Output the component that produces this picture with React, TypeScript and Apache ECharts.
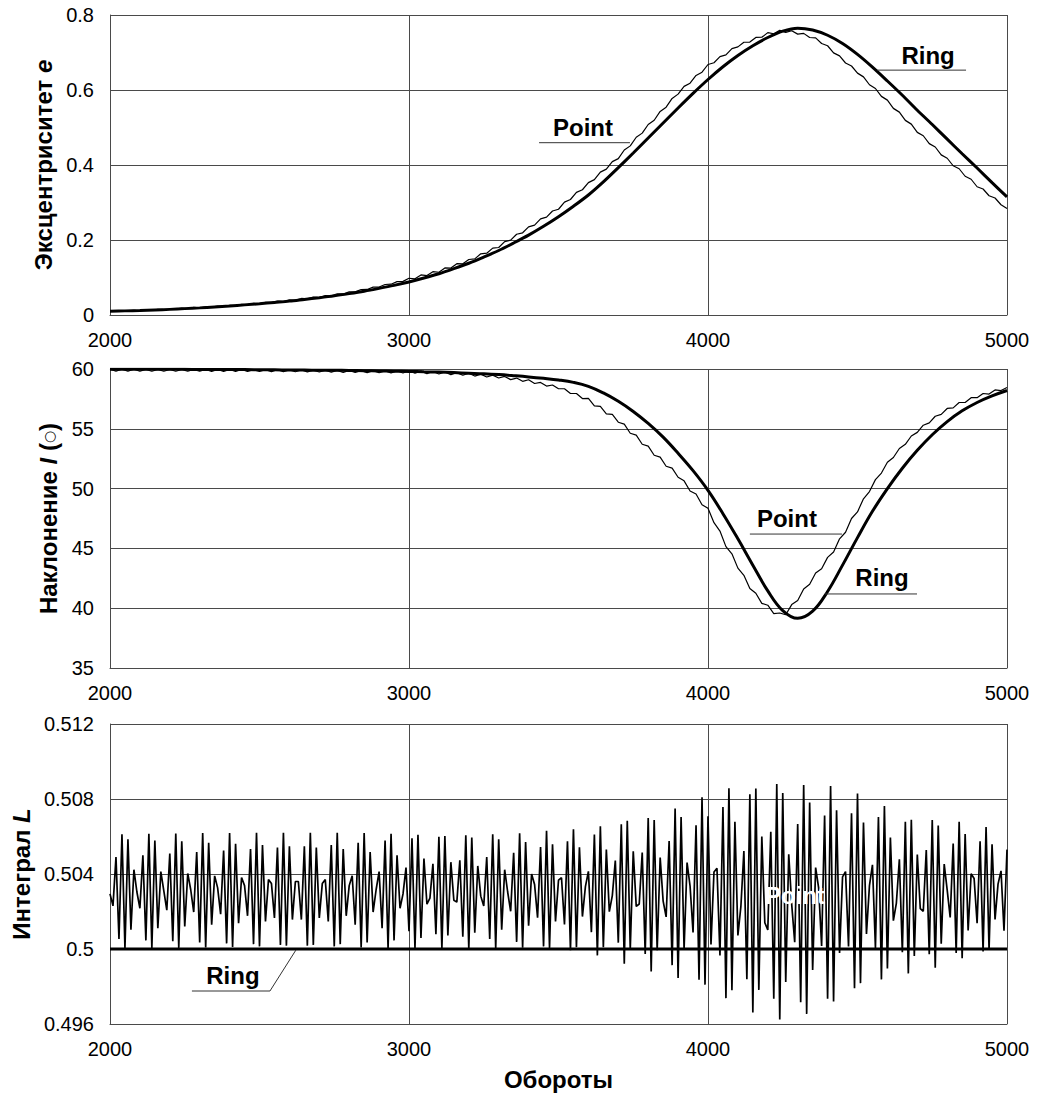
import React, { useEffect, useRef } from "react";
import * as echarts from "echarts";

const FONT = "'Liberation Sans', Arial, sans-serif";

// Revolution axis
const xTicks = [2000, 3000, 4000, 5000];
const REV_START = 2000;

// Eccentricity e — ring model, every 50 revolutions
const eRingStep = 50;
const eRing = [
  0.010, 0.011, 0.012, 0.0135, 0.015, 0.017, 0.019, 0.0215, 0.024, 0.027,
  0.030, 0.0335, 0.037, 0.0415, 0.046, 0.051, 0.057, 0.0635, 0.071, 0.079,
  0.088, 0.0985, 0.110, 0.1235, 0.138, 0.1545, 0.172, 0.192, 0.213, 0.2365,
  0.262, 0.290, 0.320, 0.355, 0.393, 0.432, 0.472, 0.512, 0.552, 0.591,
  0.628, 0.662, 0.692, 0.718, 0.740, 0.757, 0.765, 0.760, 0.746, 0.724,
  0.695, 0.661, 0.624, 0.586, 0.546, 0.508, 0.469, 0.430, 0.392, 0.353,
  0.315,
];

// Eccentricity e — point model, every 20 revolutions
const ePointStep = 20;
const ePoint = [
  0.011, 0.0094, 0.0118, 0.0102, 0.0126, 0.011, 0.0138, 0.0126, 0.0154, 0.0142,
  0.017, 0.0158, 0.0186, 0.0174, 0.0202, 0.019, 0.022, 0.021, 0.024, 0.023,
  0.026, 0.0252, 0.0284, 0.0276, 0.0308, 0.030, 0.0336, 0.0332, 0.0368, 0.0364,
  0.0405, 0.0393, 0.0441, 0.0429, 0.0477, 0.0465, 0.0519, 0.0513, 0.0567, 0.0561,
  0.0615, 0.0617, 0.0679, 0.0681, 0.0743, 0.0745, 0.0813, 0.0821, 0.0889, 0.0897,
  0.098, 0.0964, 0.1068, 0.1052, 0.1156, 0.114, 0.1256, 0.1252, 0.1368, 0.1364,
  0.148, 0.1496, 0.1632, 0.1648, 0.1784, 0.180, 0.1958, 0.1996, 0.2154, 0.2192,
  0.235, 0.2396, 0.2562, 0.2608, 0.2774, 0.282, 0.301, 0.308, 0.327, 0.334,
  0.353, 0.361, 0.381, 0.389, 0.409, 0.417, 0.440, 0.451, 0.474, 0.485,
  0.508, 0.5194, 0.5428, 0.5542, 0.5776, 0.589, 0.6096, 0.6182, 0.6388, 0.6474,
  0.668, 0.6726, 0.6892, 0.6938, 0.7104, 0.715, 0.7274, 0.7278, 0.7402, 0.7406,
  0.753, 0.750, 0.759, 0.7535, 0.758, 0.749, 0.751, 0.740, 0.739, 0.724,
  0.718, 0.699, 0.691, 0.672, 0.664, 0.645, 0.635, 0.614, 0.604, 0.583,
  0.573, 0.551, 0.541, 0.519, 0.509, 0.487, 0.478, 0.457, 0.448, 0.427,
  0.418, 0.398, 0.390, 0.370, 0.362, 0.342, 0.336, 0.318, 0.312, 0.294,
  0.284,
];

// Inclination I (deg) — ring model, every 50 revolutions
const iRingStep = 50;
const iRing = [
  59.98, 59.98, 59.98, 59.97, 59.97, 59.97, 59.96, 59.96, 59.95, 59.95,
  59.94, 59.93, 59.92, 59.91, 59.9, 59.89, 59.88, 59.86, 59.84, 59.82,
  59.8, 59.77, 59.74, 59.7, 59.65, 59.6, 59.53, 59.44, 59.34, 59.22,
  59.08, 58.88, 58.55, 58.0, 57.3, 56.45, 55.45, 54.3, 52.95, 51.5,
  49.85, 47.9, 45.8, 43.6, 41.45, 39.8, 39.15, 39.75, 41.4, 43.6,
  45.9, 48.1, 50.0, 51.7, 53.2, 54.5, 55.6, 56.5, 57.2, 57.75,
  58.2,
];

// Inclination I (deg) — point model, every 20 revolutions
const iPointStep = 20;
const iPoint = [
  59.98, 59.82, 59.98, 59.82, 59.98, 59.82, 59.97, 59.81, 59.97, 59.81,
  59.97, 59.81, 59.97, 59.81, 59.97, 59.81, 59.96, 59.8, 59.96, 59.8,
  59.96, 59.8, 59.96, 59.79, 59.95, 59.79, 59.95, 59.78, 59.94, 59.78,
  59.93, 59.77, 59.92, 59.76, 59.91, 59.75, 59.9, 59.74, 59.89, 59.72,
  59.88, 59.71, 59.86, 59.7, 59.85, 59.69, 59.84, 59.68, 59.83, 59.67,
  59.85, 59.64, 59.82, 59.6, 59.79, 59.58, 59.76, 59.53, 59.7, 59.48,
  59.65, 59.41, 59.57, 59.33, 59.49, 59.25, 59.38, 59.11, 59.24, 58.97,
  59.1, 58.79, 58.88, 58.57, 58.66, 58.35, 58.35, 57.95, 57.95, 57.53,
  57.55, 56.92, 56.88, 56.25, 56.2, 55.55, 55.39, 54.63, 54.47, 53.71,
  53.55, 52.79, 52.63, 51.87, 51.71, 50.95, 50.65, 49.8, 49.55, 48.65,
  48.35, 47.15, 46.45, 45.15, 44.55, 43.35, 42.75, 41.65, 41.25, 40.4,
  40.25, 39.55, 39.6, 39.45, 40.3, 40.65, 41.6, 42.0, 42.95, 43.3,
  44.25, 44.7, 45.8, 46.35, 47.5, 48.05, 49.15, 49.75, 50.75, 51.3,
  52.2, 52.6, 53.35, 53.7, 54.4, 54.7, 55.3, 55.5, 56.05, 56.2,
  56.7, 56.75, 57.2, 57.2, 57.6, 57.6, 57.95, 57.9, 58.25, 58.2,
  58.45,
];

// Integral L — ring model, every 250 revolutions
const lRingStep = 250;
const lRing = [0.5, 0.5, 0.5, 0.5, 0.5, 0.5, 0.5, 0.5, 0.5, 0.5, 0.5, 0.5, 0.5];

// Integral L — point model, every 10 revolutions
const lPointStep = 10;
const lPoint = [
  0.50294, 0.5023, 0.50491, 0.50053, 0.50612, 0.50003, 0.50585, 0.50103, 0.50423, 0.50304,
  0.50217, 0.5050, 0.50046, 0.50614, 0.50004, 0.50579, 0.50111, 0.50413, 0.5031, 0.50207,
  0.50509, 0.50041, 0.50616, 0.50006, 0.50574, 0.5012, 0.50403, 0.50316, 0.50197, 0.50517,
  0.50035, 0.50618, 0.50008, 0.50567, 0.50129, 0.5039, 0.50326, 0.50186, 0.50525, 0.5003,
  0.50619, 0.50011, 0.50561, 0.50138, 0.50381, 0.50338, 0.50177, 0.50533, 0.50026, 0.5062,
  0.50014, 0.50555, 0.50147, 0.5037, 0.50349, 0.50166, 0.50541, 0.50022, 0.5062, 0.50018,
  0.50548, 0.50157, 0.5036, 0.5036, 0.50157, 0.50548, 0.50018, 0.5062, 0.50022, 0.50541,
  0.50166, 0.50349, 0.5037, 0.50147, 0.50555, 0.50014, 0.5062, 0.50026, 0.50533, 0.50177,
  0.50338, 0.50391, 0.50129, 0.50567, 0.50008, 0.50618, 0.50035, 0.50517, 0.50197, 0.50316,
  0.50413, 0.50111, 0.50579, 0.50004, 0.50614, 0.50046, 0.5050, 0.50217, 0.50294, 0.50434,
  0.50095, 0.5059, 0.50001, 0.50609, 0.50059, 0.50482, 0.50239, 0.50271, 0.50454, 0.50079,
  0.50598, 0.5000, 0.50602, 0.50072, 0.50463, 0.5026, 0.5025, 0.50473, 0.50065, 0.50606,
  0.5000, 0.50594, 0.50087, 0.50443, 0.50282, 0.50229, 0.50491, 0.50053, 0.50612, 0.50003,
  0.50585, 0.50103, 0.50423, 0.50304, 0.50201, 0.50513, 0.50038, 0.50617, 0.50007, 0.5057,
  0.50124, 0.504, 0.50344, 0.50167, 0.50544, 0.50014, 0.5063, 0.50006, 0.50559, 0.50147,
  0.50367, 0.5038, 0.50131, 0.50574, 0.49993, 0.50639, 0.5001, 0.50543, 0.50173, 0.50333,
  0.50414, 0.5009, 0.50611, 0.49966, 0.50654, 0.50009, 0.5053, 0.50199, 0.50285, 0.50472,
  0.50034, 0.50665, 0.49921, 0.50684, 0.49998, 0.50521, 0.50227, 0.5024, 0.50514, 0.49973,
  0.50699, 0.4988, 0.50688, 0.49993, 0.50488, 0.50255, 0.50171, 0.50576, 0.49914, 0.50749,
  0.49845, 0.50704, 0.49999, 0.50461, 0.50336, 0.50088, 0.5066, 0.49836, 0.50809, 0.4981,
  0.50708, 0.50024, 0.50411, 0.50431, 0.49965, 0.50757, 0.49738, 0.50857, 0.4978, 0.50678,
  0.50072, 0.50227, 0.50523, 0.49839, 0.50825, 0.49661, 0.50856, 0.49782, 0.5060, 0.5014,
  0.50102, 0.50625, 0.49735, 0.5088, 0.49624, 0.50832, 0.49824, 0.50505, 0.50237, 0.50036,
  0.50666, 0.49716, 0.50874, 0.49654, 0.50781, 0.49888, 0.50434, 0.50326, 0.50016, 0.50712,
  0.49735, 0.50869, 0.4972, 0.5074, 0.49979, 0.50385, 0.50413, 0.50013, 0.50724, 0.49791,
  0.50829, 0.49818, 0.50675, 0.5008, 0.50338, 0.50449, 0.50005, 0.50704, 0.49838, 0.50762,
  0.49896, 0.50595, 0.50151, 0.50245, 0.50478, 0.49983, 0.50678, 0.4987, 0.50689, 0.49963,
  0.50504, 0.50215, 0.50201, 0.50528, 0.49972, 0.50688, 0.4990, 0.50658, 0.50028, 0.50453,
  0.50314, 0.50168, 0.50562, 0.49979, 0.50678, 0.49951, 0.50613, 0.50099, 0.50401, 0.50376,
  0.50137, 0.50575, 0.49987, 0.5065, 0.49996, 0.50559, 0.50158, 0.50346, 0.50417, 0.50097,
  0.5053,
];

// Y axis ranges for the three panels
const eAxis = { min: 0, max: 0.8, interval: 0.2 };
const iAxis = { min: 35, max: 60, interval: 5 };
const lAxis = { min: 0.496, max: 0.512, interval: 0.004 };

// Curve labels, placed in data units of their panel
const curveLabels = [
  { grid: 0, text: "Point", at: [3582, 0.499], leader: [[3435, 0.4595], [3739, 0.4595]], color: "#000" },
  { grid: 0, text: "Ring", at: [4736, 0.693], leader: [[4565, 0.653], [4863, 0.653]], color: "#000" },
  { grid: 1, text: "Point", at: [4264, 47.46], leader: [[4140, 46.2], [4448, 46.2]], color: "#000" },
  { grid: 1, text: "Ring", at: [4582, 42.53], leader: [[4391, 41.19], [4699, 41.19]], color: "#000" },
  { grid: 2, text: "Ring", at: [2411, 0.49861], leader: [[2274, 0.49776], [2535, 0.49776], [2622, 0.49995]], color: "#000" },
  { grid: 2, text: "Point", at: [4291, 0.50283], leader: [], color: "#fff" },
];

const toPairs = (step: number, vals: number[]) => vals.map((v, i) => [REV_START + step * i, v]);

const GRID_COLOR = "#4a4a4a";
const TITLE_SIZE = 24;
const TICK_SIZE = 20;

function makeXAxis(gridIndex: number, withName: boolean) {
  return {
    type: "value",
    gridIndex,
    min: xTicks[0],
    max: xTicks[xTicks.length - 1],
    interval: xTicks[1] - xTicks[0],
    axisLine: { show: true, lineStyle: { color: GRID_COLOR, width: 1 } },
    axisTick: { show: false },
    splitLine: { show: true, lineStyle: { color: GRID_COLOR, width: 1 } },
    axisLabel: {
      fontFamily: FONT,
      fontSize: TICK_SIZE,
      color: "#000",
      margin: 15,
      formatter: (v: number) => String(v),
    },
    name: withName ? "Обороты" : "",
    nameLocation: "middle",
    nameGap: 43,
    nameTextStyle: { fontFamily: FONT, fontSize: TITLE_SIZE, fontWeight: "bold", color: "#000" },
  };
}

const richName = {
  b: { fontFamily: FONT, fontSize: TITLE_SIZE, fontWeight: "bold", color: "#000" },
  i: { fontFamily: FONT, fontSize: TITLE_SIZE, fontWeight: "bold", fontStyle: "italic", color: "#000" },
  c: { fontFamily: "'DejaVu Sans', sans-serif", fontSize: 14, fontWeight: "normal", color: "#000" },
};

function makeYAxis(gridIndex: number, range: { min: number; max: number; interval: number }, name: string, gap: number) {
  return {
    type: "value",
    gridIndex,
    min: range.min,
    max: range.max,
    interval: range.interval,
    axisLine: { show: true, lineStyle: { color: GRID_COLOR, width: 1 } },
    axisTick: { show: false },
    splitLine: { show: true, lineStyle: { color: GRID_COLOR, width: 1 } },
    axisLabel: {
      fontFamily: FONT,
      fontSize: TICK_SIZE,
      color: "#000",
      margin: 16,
      formatter: (v: number) => String(Number(v.toFixed(3))),
    },
    name,
    nameLocation: "middle",
    nameRotate: 90,
    nameGap: gap,
    nameTextStyle: { fontFamily: FONT, fontSize: TITLE_SIZE, fontWeight: "bold", color: "#000", rich: richName },
  };
}

function line(gridIndex: number, name: string, data: number[][], width: number, smooth: number | boolean) {
  return {
    type: "line",
    name,
    xAxisIndex: gridIndex,
    yAxisIndex: gridIndex,
    data,
    showSymbol: false,
    smooth,
    lineStyle: { color: "#000", width },
    itemStyle: { color: "#000" },
    silent: true,
  };
}

export default function App() {
  const ref = useRef<HTMLDivElement>(null);

  useEffect(() => {
    document.body.style.margin = "0";
    const chart = echarts.init(ref.current!, undefined, { renderer: "svg" });
    chart.setOption({
      animation: false,
      backgroundColor: "#fff",
      grid: [
        { left: 110, top: 15, width: 897, height: 300 },
        { left: 110, top: 369, width: 897, height: 299 },
        { left: 110, top: 724, width: 897, height: 300 },
      ],
      xAxis: [makeXAxis(0, false), makeXAxis(1, false), makeXAxis(2, true)],
      yAxis: [
        makeYAxis(0, eAxis, "{b|Эксцентриситет }{i|e}", 53),
        makeYAxis(1, iAxis, "{b|Наклонение }{i|I}{b| (}{c|○}{b|)}", 46),
        makeYAxis(2, lAxis, "{b|Интеграл }{i|L}", 74),
      ],
      series: [
        line(0, "Point", toPairs(ePointStep, ePoint), 1.2, false),
        line(0, "Ring", toPairs(eRingStep, eRing), 3, 0.3),
        line(1, "Point", toPairs(iPointStep, iPoint), 1.2, false),
        line(1, "Ring", toPairs(iRingStep, iRing), 3, 0.4),
        line(2, "Point", toPairs(lPointStep, lPoint), 1.7, false),
        line(2, "Ring", toPairs(lRingStep, lRing), 3, false),
      ],
    });

    const graphics: any[] = [];
    curveLabels.forEach((lab) => {
      const p = chart.convertToPixel({ gridIndex: lab.grid }, lab.at) as number[];
      graphics.push({
        type: "text",
        x: p[0],
        y: p[1],
        z: 100,
        style: {
          text: lab.text,
          fontFamily: FONT,
          fontSize: 24,
          fontWeight: "bold",
          fill: lab.color,
          align: "center",
          verticalAlign: "middle",
        },
      });
      if (lab.leader.length > 1) {
        const pts = lab.leader.map((d) => chart.convertToPixel({ gridIndex: lab.grid }, d) as number[]);
        graphics.push({
          type: "polyline",
          z: 99,
          shape: { points: pts },
          style: { stroke: "#333", lineWidth: 1, fill: null },
        });
      }
    });
    chart.setOption({ graphic: graphics });

    return () => chart.dispose();
  }, []);

  return <div ref={ref} style={{ position: "absolute", left: 0, top: 0, width: 1040, height: 1095 }} />;
}
